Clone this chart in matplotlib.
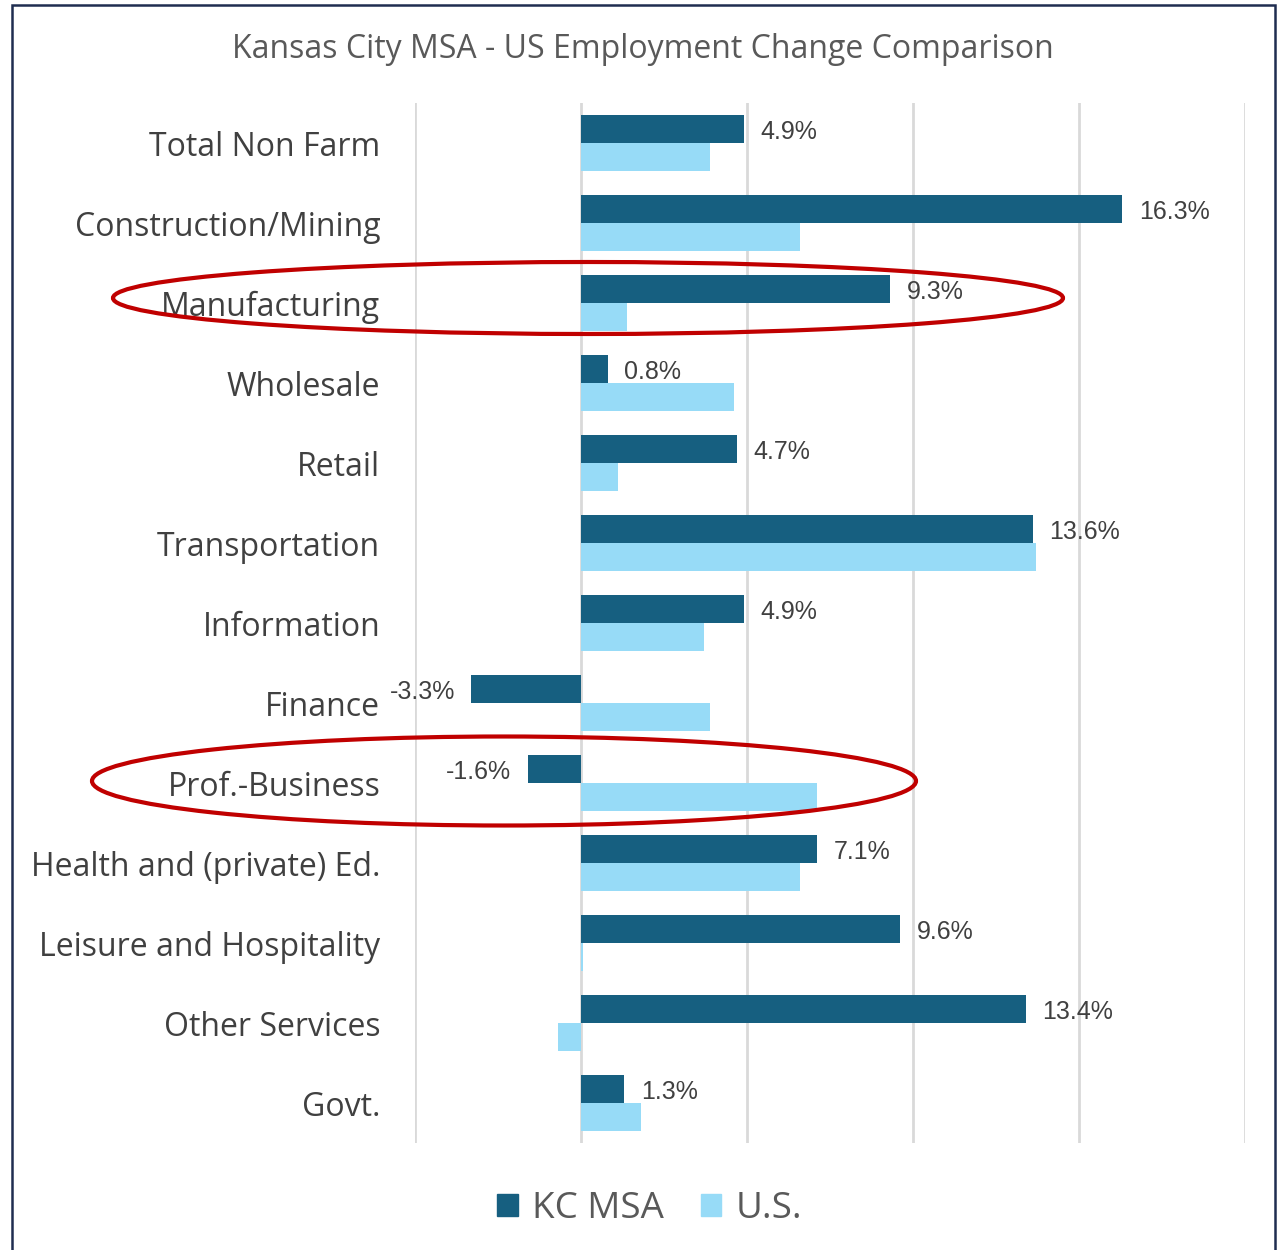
import matplotlib
matplotlib.use("Agg")
import matplotlib.pyplot as plt
from matplotlib.patches import Ellipse, Rectangle, Patch
import numpy as np

categories = ["Total Non Farm", "Construction/Mining", "Manufacturing", "Wholesale",
              "Retail", "Transportation", "Information", "Finance", "Prof.-Business",
              "Health and (private) Ed.", "Leisure and Hospitality", "Other Services", "Govt."]
kc_msa = [4.9, 16.3, 9.3, 0.8, 4.7, 13.6, 4.9, -3.3, -1.6, 7.1, 9.6, 13.4, 1.3]
us = [3.9, 6.6, 1.4, 4.6, 1.1, 13.7, 3.7, 3.9, 7.1, 6.6, 0.05, -0.7, 1.8]
series_names = ["KC MSA", "U.S."]
highlighted = ["Manufacturing", "Prof.-Business"]

KC_COLOR = "#165F80"
US_COLOR = "#97DBF7"
TEXT = "#404040"

W, H = 1286, 1250
fig = plt.figure(figsize=(W / 100, H / 100), dpi=100)
ax = fig.add_axes([415 / W, 1 - 1143 / H, (1245 - 415) / W, (1143 - 103) / H])

y = np.arange(len(categories))
bh = 0.35
ax.barh(y - bh / 2, kc_msa, height=bh, color=KC_COLOR, label=series_names[0], zorder=3)
ax.barh(y + bh / 2, us, height=bh, color=US_COLOR, label=series_names[1], zorder=3)

ax.set_xlim(-5, 20)
ax.set_ylim(len(categories) - 0.5, -0.5)
ax.set_xticks([-5, 0, 5, 10, 15, 20])
ax.xaxis.grid(True, color="#D9D9D9", linewidth=2, zorder=0)
ax.tick_params(axis="both", length=0)
ax.set_xticklabels([])
ax.set_yticks(y)
ax.set_yticklabels(categories, fontsize=23, color=TEXT, family="Open Sans")
ax.tick_params(axis="y", pad=25)
for s in ax.spines.values():
    s.set_visible(False)

for yi, v in zip(y, kc_msa):
    if v >= 0:
        ax.annotate(f"{v:.1f}%", (v, yi - bh / 2), xytext=(12, -2.5), textcoords="offset points",
                    ha="left", va="center", fontsize=18, color=TEXT, family="Liberation Sans")
    else:
        ax.annotate(f"{v:.1f}%", (v, yi - bh / 2), xytext=(-12, -2.5), textcoords="offset points",
                    ha="right", va="center", fontsize=18, color=TEXT, family="Liberation Sans")

fig.text(0.5, 1 - 50 / H, "Kansas City MSA - US Employment Change Comparison",
         ha="center", va="center", fontsize=23, color="#595959", family="Open Sans")

leg = fig.legend(handles=[Patch(color=KC_COLOR, label=series_names[0]),
                          Patch(color=US_COLOR, label=series_names[1])],
                 loc="center", bbox_to_anchor=(650 / W, 1 - 1209 / H), ncol=2, frameon=False,
                 prop={"family": "Open Sans", "size": 26.5}, handlelength=0.55, handleheight=0.55,
                 handletextpad=0.4, columnspacing=1.0, labelcolor="#595959")

# highlight ellipses
ellipses = [(588, 298, 950, 72), (504, 781, 824, 89)]
for cx, cy, ew, eh in ellipses:
    fig.add_artist(Ellipse((cx / W, 1 - cy / H), ew / W, eh / H, transform=fig.transFigure,
                           fill=False, edgecolor="#C00000", linewidth=3, zorder=10))

# frame border
fig.add_artist(Rectangle((12 / W, -0.02), (1275 - 12) / W, (1 - 5 / H) + 0.02,
                         transform=fig.transFigure, fill=False, edgecolor="#1F2D50", linewidth=1.8))

fig.savefig("out.png", dpi=100)
